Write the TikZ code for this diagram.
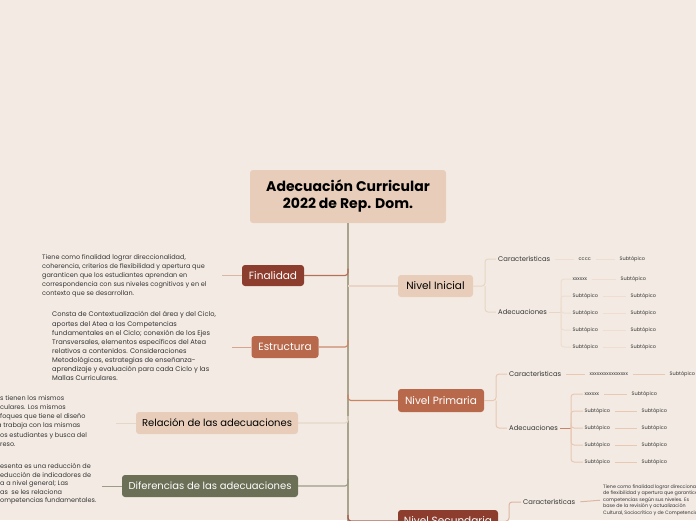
\documentclass[tikz,border=0pt]{standalone}
\usepackage{fontspec}
\setmainfont{Poppins}
\usetikzlibrary{calc}
\definecolor{bgc}{HTML}{F3EBE3}
\definecolor{lightnode}{HTML}{E8CEBA}
\definecolor{darkred}{HTML}{8C3D2D}
\definecolor{orangeb}{HTML}{B8694B}
\definecolor{olive}{HTML}{6A6F56}
\definecolor{trunkc}{HTML}{A8A38A}
\definecolor{txt}{HTML}{333333}
\definecolor{lnlight}{HTML}{E8D5C6}
\definecolor{lnfin}{HTML}{B5705A}
\definecolor{lnest}{HTML}{C98A6C}
\definecolor{lnrel}{HTML}{E6D6C8}
\definecolor{lndif}{HTML}{9A9C88}
\definecolor{lnfint}{HTML}{DDB5A3}
\definecolor{lnestt}{HTML}{D9A48C}
\definecolor{lnpri}{HTML}{C98466}
\definecolor{lnprib}{HTML}{E8C7B3}
\definecolor{lnsec}{HTML}{A85A48}
\definecolor{lnini}{HTML}{EEDDD0}
\begin{document}
\begin{tikzpicture}[x=1pt,y=-1pt,
  topic/.style={rounded corners=3pt, inner sep=0pt, align=center, font=\fontsize{10.5}{12}\selectfont},
  para/.style={anchor=north west, inner sep=0pt, align=left, text=txt, font=\fontsize{6.5}{9.1}\selectfont},
  lbl/.style={anchor=west, inner sep=2pt, text=txt, font=\fontsize{6.8}{8}\selectfont},
  subt/.style={anchor=west, inner sep=1.5pt, text=txt, font=\fontsize{5}{6}\selectfont},
  conn/.style={line width=1.2pt, rounded corners=3pt},
  thin/.style={line width=1pt, rounded corners=3pt},
  gap/.style={line width=1pt, shorten <=3pt, shorten >=3pt}
]
\fill[bgc] (0,0) rectangle (696,520);
\useasboundingbox (0,0) rectangle (696,520);
\clip (0,0) rectangle (696,520);

% root and trunk
\node[topic, fill=lightnode, minimum width=196pt, minimum height=53pt, font=\bfseries\fontsize{14}{17}\selectfont] (root) at (348,196.5) {Adecuación Curricular\\2022 de Rep. Dom.};
\coordinate (tend) at (348,530);
\draw[trunkc, line width=1.3pt] (root.south) -- (tend);

% ---------- left side ----------
\node[topic, fill=darkred, text=white, minimum width=62pt, minimum height=21pt] (fin) at (273,275.5) {Finalidad};
\node[topic, fill=orangeb, text=white, minimum width=67pt, minimum height=22pt] (est) at (285,347) {Estructura};
\node[topic, fill=lightnode, text=black, minimum width=162pt, minimum height=22pt, font=\fontsize{10}{12}\selectfont] (rel) at (217,423) {Relación de las adecuaciones};
\node[topic, fill=olive, text=white, minimum width=176pt, minimum height=22pt, font=\fontsize{10}{12}\selectfont] (dif) at (210,486) {Diferencias de las adecuaciones};

\draw[conn, lnfin] (fin.east) -- (fin.east -| root.south) -- ++(0,-7);
\draw[conn, lnest] (est.east) -- (est.east -| root.south) -- ++(0,-7);
\draw[conn, lnrel] (rel.east) -- (rel.east -| root.south) -- ++(0,-7);
\draw[conn, lndif] (dif.east) -- (dif.east -| root.south) -- ++(0,-7);

\node[para] (fint) at (42,254) {Tiene como finalidad lograr direccionalidad,\\coherencia, criterios de flexibilidad y apertura que\\garanticen que los estudiantes aprendan en\\correspondencia con sus niveles cognitivos y en el\\contexto que se desarrollan.};
\node[para, font=\fontsize{6.7}{9.1}\selectfont] (estt) at (52,311.5) {Consta de Contextualización del área y del Ciclo,\\aportes del Atea a las Competencias\\fundamentales en el Ciclo; conexión de los Ejes\\Transversales, elementos específicos del Atea\\relativos a contenidos. Consideraciones\\Metodológicas, estrategias de enseñanza-\\aprendizaje y evaluación para cada Ciclo y las\\Mallas Curriculares.};
\node[para] (relt) at (0,395.5) {s tienen los mismos\\culares. Los mismos\\foques que tiene el diseño\\\hspace*{-3pt}a trabaja con las mismas\\os estudiantes y busca del\\reso.};
\node[para, font=\fontsize{6.5}{8.5}\selectfont] (dift) at (0,463.5) {esenta es una reducción de\\educción de indicadores de\\a a nivel general; Las\\as\ \ se les relaciona\\ompetencias fundamentales.};

\coordinate (finl) at (222,275.5);
\coordinate (estl) at (232,347);
\coordinate (rell) at (116,423);
\coordinate (difl) at (102,486);
\draw[line width=1pt, lnfint] (fin.west) -- (finl);
\draw[line width=1pt, lnestt] (est.west) -- (estl);
\draw[line width=1pt, lnrel] (rel.west) -- (rell);
\draw[line width=1pt, lndif] (dif.west) -- (difl);

% ---------- Nivel Inicial ----------
\node[topic, fill=lightnode, text=black, minimum width=75pt, minimum height=22pt] (ni) at (435.5,286) {Nivel Inicial};
\draw[conn, lnlight] (ni.west -| root.south) -- (ni.west);
\node[lbl] (ic) at (496,259) {Características};
\node[lbl] (ia) at (496,312) {Adecuaciones};
\coordinate (ij) at (485,286);
\draw[thin, lnlight] (ni.east) -- (ij) |- (ic.west);
\draw[thin, lnlight] (ij) |- (ia.west);
\node[subt] (ic1) at (577,259) {cccc};
\node[subt] (ic2) at (618,259) {Subtópico};
\draw[gap, lnini] (ic.east) -- (ic1.west);
\draw[gap, lnini] (ic1.east) -- (ic2.west);
\coordinate (iaj) at (561,312);
\draw[thin, lnlight] (ia.east) -- (iaj);
\node[subt] (ia1) at (571,279) {xxxxxx};
\node[subt] (ia1s) at (619,279) {Subtópico};
\node[subt] (ia2) at (571,296) {Subtópico};
\node[subt] (ia2s) at (629,296) {Subtópico};
\node[subt] (ia3) at (571,313) {Subtópico};
\node[subt] (ia3s) at (629,313) {Subtópico};
\node[subt] (ia4) at (571,330) {Subtópico};
\node[subt] (ia4s) at (629,330) {Subtópico};
\node[subt] (ia5) at (571,347) {Subtópico};
\node[subt] (ia5s) at (629,347) {Subtópico};
\foreach \n in {ia1,ia2,ia3,ia4,ia5}{
  \draw[thin, lnini] (iaj) |- (\n.west);
  \draw[gap, lnini] (\n.east) -- (\n s.west);
}

% ---------- Nivel Primaria ----------
\node[topic, fill=orangeb, text=white, minimum width=86pt, minimum height=23pt] (np) at (441,400.5) {Nivel Primaria};
\draw[conn, lnpri] ($(np.west -| root.south)+(0,-6)$) -- (np.west -| root.south) -- (np.west);
\node[lbl] (pc) at (507,374) {Características};
\node[lbl] (pa) at (507,428) {Adecuaciones};
\coordinate (pj) at (496,400.5);
\draw[thin, lnprib] (np.east) -- (pj) |- (pc.west);
\draw[thin, lnprib] (pj) |- (pa.west);
\node[subt] (pc1) at (588,374) {xxxxxxxxxxxxxxxx};
\node[subt] (pc2) at (668,374) {Subtópico};
\draw[gap, lnprib] (pc.east) -- (pc1.west);
\draw[gap, lnprib] (pc1.east) -- (pc2.west);
\coordinate (paj) at (571,428);
\draw[thin, lnpri] (pa.east) -- (paj);
\node[subt] (pa1) at (583,394) {xxxxxx};
\node[subt] (pa1s) at (630,394) {Subtópico};
\node[subt] (pa2) at (583,411) {Subtópico};
\node[subt] (pa2s) at (640,411) {Subtópico};
\node[subt] (pa3) at (583,428) {Subtópico};
\node[subt] (pa3s) at (640,428) {Subtópico};
\node[subt] (pa4) at (583,445) {Subtópico};
\node[subt] (pa4s) at (640,445) {Subtópico};
\node[subt] (pa5) at (583,462) {Subtópico};
\node[subt] (pa5s) at (640,462) {Subtópico};
\foreach \n in {pa1,pa2,pa3,pa4,pa5}{
  \draw[thin, lnprib] (paj) |- (\n.west);
  \draw[gap, lnprib] (\n.east) -- (\n s.west);
}

% ---------- Nivel Secundaria ----------
\node[topic, fill=darkred, text=white, minimum width=100pt, minimum height=22pt] (ns) at (448,521) {Nivel Secundaria};
\draw[conn, lnsec] ($(ns.west -| root.south)+(0,-6)$) -- (ns.west -| root.south) -- (ns.west);
\node[lbl] (sc) at (521,502) {Características};
\coordinate (sj) at (509,521);
\draw[thin, lnfint] (ns.east) -- (sj) |- (sc.west);
\node[anchor=west, inner sep=0pt, align=left, text=txt, font=\fontsize{4.8}{6.6}\selectfont] (sct) at (603,500) {Tiene como finalidad lograr direccionalidad,\\de flexibilidad y apertura que garanticen\\competencias según sus niveles. Es\\base de la revisión y actualización\\Cultural, Sociocrítico y de Competencias};
\draw[gap, lnfint] (sc.east) -- (sct.west);
\end{tikzpicture}
\end{document}
